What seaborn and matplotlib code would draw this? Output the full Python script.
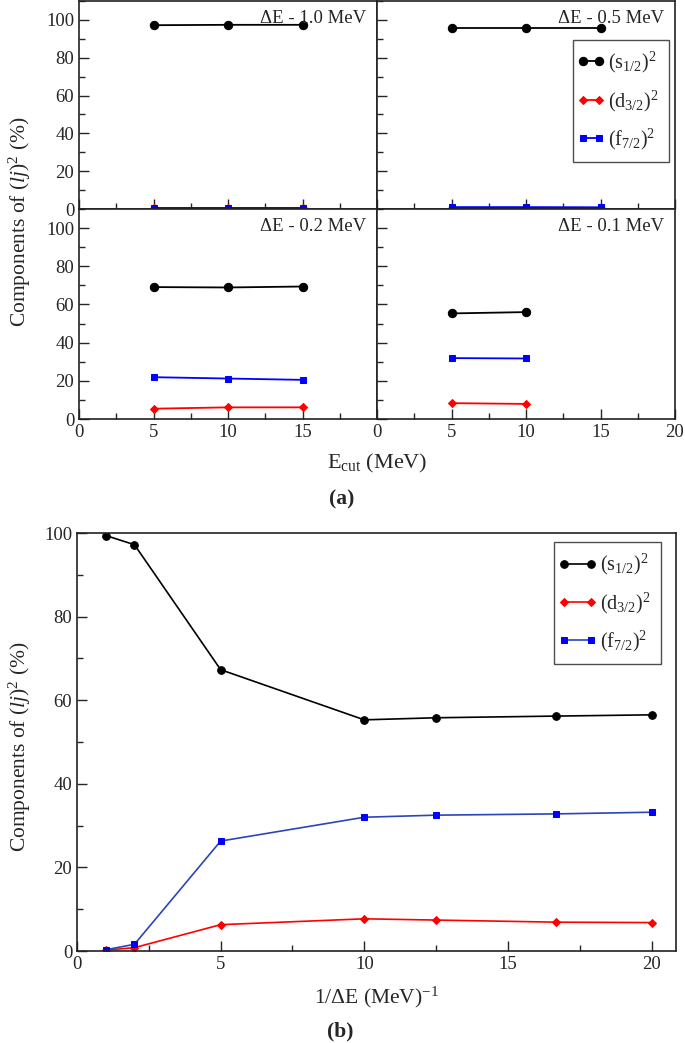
import matplotlib
matplotlib.use("Agg")
import matplotlib.pyplot as plt
from matplotlib.ticker import MultipleLocator
from matplotlib.legend_handler import HandlerLine2D
from matplotlib.lines import Line2D
import seaborn as sns

# --- données ---
# (a) composantes en fonction de E_cut, pour chaque ΔE
ecut = [5, 10, 15]
ecut_01 = [5, 10]
s_10 = [97.2, 97.4, 97.4]
d_10 = [0.3, 0.3, 0.3]
f_10 = [0.5, 0.5, 0.5]
s_05 = [95.5, 95.5, 95.5]
d_05 = [0.3, 0.3, 0.3]
f_05 = [1.0, 1.0, 0.9]
s_02 = [69.1, 68.9, 69.4]
d_02 = [5.4, 6.1, 6.1]
f_02 = [21.9, 21.2, 20.5]
s_01 = [55.3, 56.0]
d_01 = [8.3, 7.9]
f_01 = [31.9, 31.7]
panel_titles = ["ΔE - 1.0 MeV", "ΔE - 0.5 MeV", "ΔE - 0.2 MeV", "ΔE - 0.1 MeV"]

# (b) composantes en fonction de 1/ΔE
inv_de = [1, 2, 5, 10, 12.5, 16.67, 20]
s_b = [99.4, 97.2, 67.3, 55.3, 55.8, 56.2, 56.5]
d_b = [0.2, 0.8, 6.3, 7.7, 7.4, 6.9, 6.8]
f_b = [0.3, 1.6, 26.3, 32.0, 32.5, 32.8, 33.2]

labels = [r"$(\mathrm{s}_{1/2})^2$", r"$(\mathrm{d}_{3/2})^2$", r"$(\mathrm{f}_{7/2})^2$"]

sns.set_style("ticks")
plt.rcParams["font.family"] = ["Liberation Serif", "DejaVu Serif"]
plt.rcParams["mathtext.fontset"] = "custom"
plt.rcParams["mathtext.rm"] = "Liberation Serif"
plt.rcParams["mathtext.it"] = "Liberation Serif:italic"
plt.rcParams["axes.linewidth"] = 1.2
plt.rcParams["axes.edgecolor"] = "#222222"

W, H = 685, 1043
fig = plt.figure(figsize=(W / 100, H / 100), dpi=100)


def frac(x0, y0, x1, y1):
    # pixels -> coordonnées figure
    return [x0 / W, 1 - y1 / H, (x1 - x0) / W, (y1 - y0) / H]


styles = [
    dict(color="black", marker="o", markersize=6, markeredgecolor="black"),
    dict(color="red", marker="D", markersize=4.2, markeredgecolor="red"),
    dict(color="blue", marker="s", markersize=4.5, markeredgecolor="blue"),
]


def style_axis(ax, xlim, ylim):
    ax.set_xlim(*xlim)
    ax.set_ylim(*ylim)
    ax.xaxis.set_major_locator(MultipleLocator(5))
    ax.xaxis.set_minor_locator(MultipleLocator(2.5))
    ax.yaxis.set_major_locator(MultipleLocator(20))
    ax.yaxis.set_minor_locator(MultipleLocator(10))
    ax.tick_params(which="both", direction="in", width=1.0, labelsize=13.5)
    ax.tick_params(which="major", length=7)
    ax.tick_params(which="minor", length=4)
    ax.set_xlabel("")
    ax.set_ylabel("")
    for sp in ax.spines.values():
        sp.set_visible(True)


def add_legend(ax, hlen, anchor):
    # marqueurs aux deux bouts du trait, comme dans xmgrace
    hmap = {Line2D: HandlerLine2D(marker_pad=0.0)}
    leg = ax.legend(ax.lines[:3], labels, numpoints=2, handlelength=hlen,
                    loc="upper right", bbox_to_anchor=anchor, borderaxespad=0,
                    fontsize=14.5, frameon=True, fancybox=False,
                    edgecolor="#222222", labelspacing=0.65,
                    handletextpad=0.45, borderpad=0.5, handler_map=hmap)
    leg.get_frame().set_linewidth(1.0)
    return leg


# --- (a) quatre panneaux ---
boxes = [(79, 1, 377, 209), (377, 1, 675, 209), (79, 209, 377, 419), (377, 209, 675, 419)]
panel_data = [
    (ecut, [s_10, d_10, f_10]),
    (ecut, [s_05, d_05, f_05]),
    (ecut, [s_02, d_02, f_02]),
    (ecut_01, [s_01, d_01, f_01]),
]

axes = []
for i, (box, (xs, series)) in enumerate(zip(boxes, panel_data)):
    ax = fig.add_axes(frac(*box))
    for ys, st in zip(series, styles):
        sns.lineplot(x=xs, y=ys, ax=ax, linewidth=1.3, **st)
    style_axis(ax, (0, 20), (0, 110))
    ax.text(0.965, 0.955, panel_titles[i], transform=ax.transAxes,
            ha="right", va="top", fontsize=13.5)
    if i < 2:
        ax.tick_params(labelbottom=False)
    if i % 2 == 1:
        ax.tick_params(labelleft=False)
    if i == 2:
        ax.set_xticks([0, 5, 10, 15])
        ax.xaxis.set_minor_locator(MultipleLocator(2.5))
    axes.append(ax)

add_legend(axes[1], 0.8, (0.98, 0.813))

fig.text(20 / W, 1 - 222 / H, r"Components of $(lj)^2$ (%)", rotation=90,
         ha="center", va="center", fontsize=15.5)
fig.text(377 / W, 1 - 463 / H, r"E$_{\mathrm{cut}}$ (MeV)", ha="center",
         va="center", fontsize=16)
fig.text(342 / W, 1 - 499 / H, "(a)", ha="center", va="center",
         fontsize=15.5, fontweight="bold")

# --- (b) ---
axb = fig.add_axes(frac(77, 533, 676, 951))
b_styles = [
    dict(color="black", marker="o", markersize=5.5, markeredgecolor="black"),
    dict(color="red", marker="D", markersize=4.2, markeredgecolor="red"),
    dict(color="#2a46b8", marker="s", markersize=4.8, markeredgecolor="blue",
         markerfacecolor="blue"),
]
for ys, st in zip([s_b, d_b, f_b], b_styles):
    sns.lineplot(x=inv_de, y=ys, ax=axb, linewidth=1.2, **st)
style_axis(axb, (0, 20.85), (0, 100))
add_legend(axb, 1.35, (0.975, 0.978))

fig.text(20 / W, 1 - 747 / H, r"Components of $(lj)^2$ (%)", rotation=90,
         ha="center", va="center", fontsize=15.5)
fig.text(376 / W, 1 - 997 / H, r"1/ΔE (MeV)$^{-1}$", ha="center",
         va="center", fontsize=15.5)
fig.text(340 / W, 1 - 1031 / H, "(b)", ha="center", va="center",
         fontsize=15.5, fontweight="bold")

fig.savefig("out.png", dpi=100)
